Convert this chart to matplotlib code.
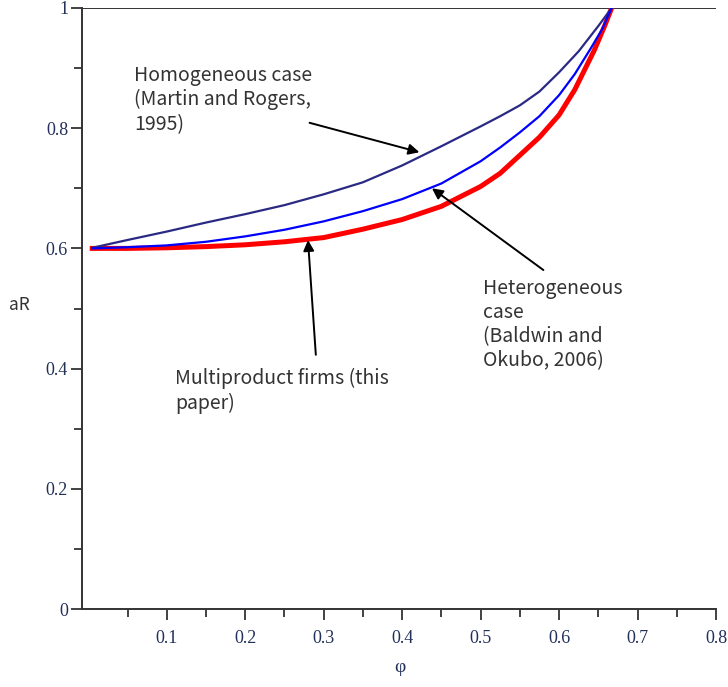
import matplotlib
matplotlib.use("Agg")
import matplotlib.pyplot as plt
from matplotlib.ticker import FixedLocator

# values
phi_homog = [0.005, 0.05, 0.1, 0.15, 0.2, 0.25, 0.3, 0.35, 0.4, 0.45, 0.5, 0.525, 0.55, 0.575, 0.6, 0.625, 0.65, 0.667]
ar_homog = [0.601, 0.614, 0.628, 0.643, 0.657, 0.672, 0.69, 0.71, 0.738, 0.77, 0.803, 0.82, 0.838, 0.861, 0.893, 0.928, 0.97, 1.0]

phi_hetero = [0.005, 0.05, 0.1, 0.15, 0.2, 0.25, 0.3, 0.35, 0.4, 0.45, 0.5, 0.525, 0.55, 0.575, 0.6, 0.62, 0.64, 0.655, 0.667]
ar_hetero = [0.6, 0.602, 0.605, 0.611, 0.62, 0.631, 0.645, 0.662, 0.682, 0.708, 0.745, 0.768, 0.793, 0.82, 0.855, 0.89, 0.932, 0.965, 1.0]

phi_multi = [0.005, 0.05, 0.1, 0.15, 0.2, 0.25, 0.3, 0.35, 0.4, 0.45, 0.5, 0.525, 0.55, 0.575, 0.6, 0.62, 0.645, 0.658, 0.667]
ar_multi = [0.6, 0.6, 0.601, 0.603, 0.606, 0.611, 0.618, 0.632, 0.648, 0.67, 0.703, 0.725, 0.755, 0.785, 0.822, 0.864, 0.93, 0.97, 1.0]

xticks = [0.1, 0.2, 0.3, 0.4, 0.5, 0.6, 0.7, 0.8]
xticklabels = ['0.1', '0.2', '0.3', '0.4', '0.5', '0.6', '0.7', '0.8']
xminor = [0.05, 0.15, 0.25, 0.35, 0.45, 0.55, 0.65, 0.75]
yticks = [0, 0.2, 0.4, 0.6, 0.8, 1.0]
yticklabels = ['0', '0.2', '0.4', '0.6', '0.8', '1']
yminor = [0.1, 0.3, 0.5, 0.7, 0.9]

label_homog = 'Homogeneous case\n(Martin and Rogers,\n1995)'
label_hetero = 'Heterogeneous\ncase\n(Baldwin and\nOkubo, 2006)'
label_multi = 'Multiproduct firms (this\npaper)'

fig = plt.figure(figsize=(7.28, 6.87), dpi=100)
ax = fig.add_axes([82 / 728, 78 / 687, 634 / 728, 601 / 687])

ax.axhline(1.0, color='#333333', lw=1.4, zorder=1)
ax.plot(phi_homog, ar_homog, color='#2a2a85', lw=1.6, zorder=3)
ax.plot(phi_hetero, ar_hetero, color='#0000ff', lw=1.6, zorder=3)
ax.plot(phi_multi, ar_multi, color='#ff0000', lw=3.6, zorder=2)

ax.set_xlim(-0.008, 0.8)
ax.set_ylim(0, 1)

for s in ['top', 'right']:
    ax.spines[s].set_visible(False)
for s in ['left', 'bottom']:
    ax.spines[s].set_color('#333333')
    ax.spines[s].set_linewidth(1.4)

ax.set_xticks(xticks)
ax.set_xticklabels(xticklabels)
ax.set_yticks(yticks)
ax.set_yticklabels(yticklabels)
ax.xaxis.set_minor_locator(FixedLocator(xminor))
ax.yaxis.set_minor_locator(FixedLocator(yminor))
ax.tick_params(which='major', direction='out', length=8, width=1.3, color='#333333',
               labelsize=13, labelcolor='#22305a')
ax.tick_params(which='minor', direction='out', length=6, width=1.3, color='#333333')
ax.tick_params(axis='x', pad=7)
ax.tick_params(axis='y', pad=2)
for lab in ax.get_xticklabels() + ax.get_yticklabels():
    lab.set_family('Liberation Serif')

ax.set_xlabel('φ', family='Liberation Serif', fontsize=14, color='#22305a')
ax.xaxis.set_label_coords(0.5016, -0.083)
ax.set_ylabel('aR', rotation=0, family=['Noto Sans CJK JP', 'DejaVu Sans'], fontsize=12.5, color='#333333',
              va='center', ha='center')
ax.yaxis.set_label_coords(-0.098, 0.506)

tfont = dict(family=['Noto Sans CJK JP', 'DejaVu Sans'], fontsize=14, color='#333333',
             ha='left', va='top', linespacing=1.2)
ax.text(0.058, 0.905, label_homog, **tfont)
ax.text(0.5025, 0.551, label_hetero, **tfont)
ax.text(0.111, 0.401, label_multi, **tfont)

arrow = dict(arrowstyle='-|>', color='black', lw=1.4, mutation_scale=16, shrinkA=0, shrinkB=0)
ax.annotate('', xy=(0.422, 0.760), xytext=(0.282, 0.809), arrowprops=arrow)
ax.annotate('', xy=(0.438, 0.700), xytext=(0.580, 0.564), arrowprops=arrow)
ax.annotate('', xy=(0.280, 0.614), xytext=(0.290, 0.423), arrowprops=arrow)

fig.savefig('out.png', dpi=100)
